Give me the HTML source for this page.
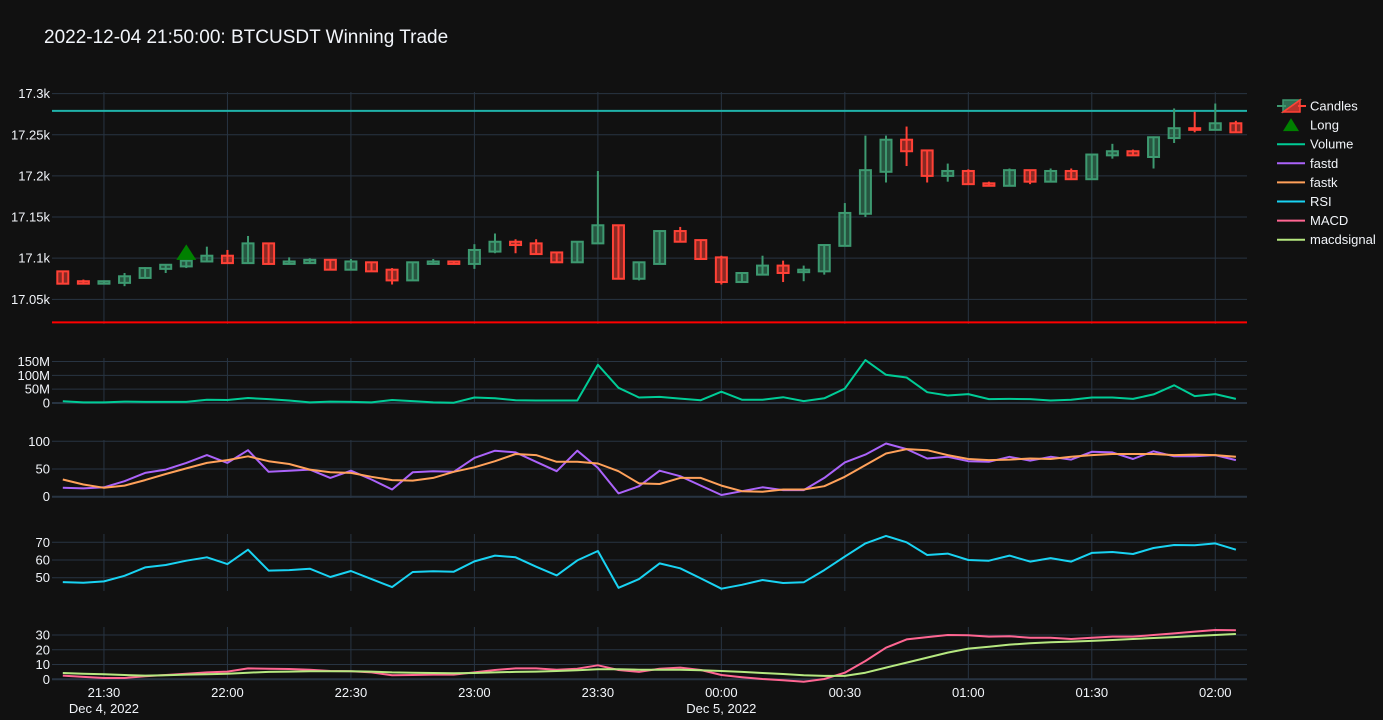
<!DOCTYPE html>
<html><head><meta charset="utf-8"><style>
html,body{margin:0;padding:0;background:#111111;}
svg{display:block;font-family:"Liberation Sans",sans-serif;}
</style></head><body>
<svg id="chart" width="1383" height="720" viewBox="0 0 1383 720" xmlns="http://www.w3.org/2000/svg">
<rect x="0" y="0" width="1383" height="720" fill="#111111"/>
<text x="44" y="43" fill="#f2f5fa" font-size="19">2022-12-04 21:50:00: BTCUSDT Winning Trade</text>
<g id="grid"></g><g id="marks"></g><g id="axes"></g>
<g id="legend"></g>
</svg>
<script>
const opens  = [17084,17072,17069,17070,17076,17087,17090,17096,17103,17094,17118,17093,17094,17098,17086,17095,17086,17073,17093,17096,17093,17108,17120,17118,17107,17095,17118,17140,17075,17093,17133,17122,17101,17071,17080,17091,17083,17084,17115,17154,17205,17244,17231,17200,17206,17191,17188,17207,17193,17206,17196,17225,17230,17223,17246,17258,17256,17264];
const closes = [17069,17069,17072,17078,17088,17092,17097,17103,17094,17118,17093,17096,17098,17086,17096,17084,17073,17095,17096,17093,17110,17120,17116,17105,17095,17120,17140,17075,17095,17133,17120,17099,17071,17082,17091,17082,17086,17116,17155,17207,17244,17230,17200,17206,17190,17188,17207,17193,17206,17196,17226,17230,17225,17247,17258,17256,17264,17253];
const highs  = [17084,17074,17073,17082,17089,17092,17098,17114,17110,17127,17118,17101,17100,17099,17099,17096,17088,17095,17099,17096,17117,17130,17123,17123,17107,17120,17206,17141,17095,17134,17138,17122,17103,17083,17103,17097,17091,17116,17167,17249,17249,17260,17231,17215,17208,17193,17209,17207,17209,17209,17226,17239,17232,17248,17282,17278,17288,17267];
const lows   = [17068,17069,17069,17066,17076,17082,17088,17095,17094,17094,17092,17093,17094,17086,17086,17084,17068,17073,17093,17093,17087,17106,17106,17105,17095,17095,17118,17075,17073,17093,17120,17099,17068,17071,17080,17071,17072,17080,17115,17150,17192,17212,17192,17193,17190,17188,17188,17190,17193,17195,17196,17221,17225,17209,17240,17253,17256,17253];
const volume = [6,2,2,5,4,4,4,12,11,18,14,9,2,5,4,2,11,7,2,1,20,17,10,9,9,9,138,55,20,22,16,10,41,12,12,21,7,17,52,155,102,92,39,27,32,14,15,14,9,12,20,20,15,31,64,25,32,15];
const fastd  = [16,15,17,28,43,49,61,75,61,84,45,47,49,34,47,31,13,44,46,45,70,83,80,63,46,83,52,6,19,47,37,20,3,10,17,12,12,34,62,76,96,86,69,72,64,63,72,65,72,67,81,80,68,82,73,73,75,66];
const fastk  = [31,22,16,20,30,41,51,61,66,73,64,59,49,44,43,36,30,29,34,45,53,64,77,75,63,63,60,46,24,23,34,34,20,10,9,13,13,19,36,57,78,86,84,75,68,66,67,69,68,72,75,77,77,77,75,76,75,72];
const rsi    = [47.5,47.2,47.9,51.1,55.8,57.2,59.6,61.5,57.7,65.8,54,54.3,55.1,50.4,53.8,49.2,44.7,53.2,53.6,53.4,59.2,62.5,61.5,56.2,51.3,59.8,65.1,44.3,49.2,58.1,55.3,49.6,43.8,46,48.7,47,47.4,54.3,61.9,69.4,73.6,70,62.8,63.6,60,59.6,62.5,59.1,61.1,59.1,64,64.5,63.4,66.8,68.5,68.3,69.4,65.8];
const macd   = [2.5,1.6,0.9,0.9,2,2.9,3.8,4.7,5.2,7.4,7.2,7,6.5,5.6,5.4,4.7,2.7,2.9,3.2,3.2,4.7,6.3,7.4,7.4,6.5,7.2,9.5,6.3,5,7.2,7.9,6.3,2.9,1.4,0.2,-0.7,-1.6,0.2,4.5,12.4,21.4,27,28.6,30,29.8,28.9,29.1,28.2,28.2,27.3,28.2,28.9,28.9,30,31.1,32.3,33.4,33.2];
const macdsignal = [4.3,3.8,3.4,2.9,2.5,2.7,3.2,3.4,3.8,4.5,5,5.2,5.4,5.4,5.4,5.2,4.7,4.5,4.3,4.1,4.3,4.7,5,5.2,5.6,6.1,6.8,6.8,6.5,6.5,6.5,6.1,5.6,5,4.3,3.6,2.7,2.3,2.3,4.5,7.9,11.3,14.7,18.1,20.8,22.1,23.5,24.4,25.1,25.5,26,26.6,27.3,28,28.6,29.3,30,30.7];
const priceTicks = [17050,17100,17150,17200,17250,17300];
const priceTickLabels = ["17.05k","17.1k","17.15k","17.2k","17.25k","17.3k"];
const volTicks = [0,50,100,150];
const volTickLabels = ["0","50M","100M","150M"];
const stochTicks = [0,50,100];
const rsiTicks = [50,60,70];
const macdTicks = [0,10,20,30];
const timeTickIdx = [2,8,14,20,26,32,38,44,50,56];
const timeTickLabels = ["21:30","22:00","22:30","23:00","23:30","00:00","00:30","01:00","01:30","02:00"];
const dateTicks = [[2,"Dec 4, 2022"],[32,"Dec 5, 2022"]];
const longIdx = 6, longPrice = 17107;
const takeProfit = 17279, stopLoss = 17022;

const NS="http://www.w3.org/2000/svg";
const X0=52,X1=1247;
const x = i => 62.8 + i*20.58;
const lin=(d0,d1,r0,r1)=>v=>r0+(v-d0)*(r1-r0)/(d1-d0);
const yP=lin(17020,17302,324,92);
const yV=lin(0,150,403,361.5);
const yS=lin(0,100,496.7,441.3);
const yR=lin(50,70,577.7,542.3);
const yM=lin(0,30,679.3,635);
const panels=[{t:92,b:324},{t:358,b:404},{t:440,b:498},{t:534,b:591},{t:627,b:680}];
function el(tag,attrs,parent,text){const e=document.createElementNS(NS,tag);for(const k in attrs)e.setAttribute(k,attrs[k]);if(text!==undefined)e.textContent=text;parent.appendChild(e);return e;}
const G=document.getElementById('grid'),M=document.getElementById('marks'),A=document.getElementById('axes'),L=document.getElementById('legend');
panels.forEach(p=>timeTickIdx.forEach(i=>{const l=el('line',{x1:x(i),x2:x(i),y1:p.t,y2:p.b,stroke:'#283442','stroke-width':1},G);

}));
function yAxis(ticks,labels,f,name,zero){ticks.forEach((v,k)=>{const yy=f(v);
const g=el('line',{x1:X0,x2:X1,y1:yy,y2:yy,stroke:'#283442','stroke-width':(zero&&v===0)?2:1},G);


const t=el('text',{x:50,y:yy+4.5,fill:'#f2f5fa','font-size':13,'text-anchor':'end'},A,labels[k]);

});}
yAxis(priceTicks,priceTickLabels,yP,'price',false);
yAxis(volTicks,volTickLabels,yV,'volume',true);
yAxis(stochTicks,stochTicks.map(String),yS,'stoch',true);
yAxis(rsiTicks,rsiTicks.map(String),yR,'rsi',false);
yAxis(macdTicks,macdTicks.map(String),yM,'macd',true);
timeTickIdx.forEach((i,k)=>{const t=el('text',{x:x(i),y:697,fill:'#f2f5fa','font-size':13,'text-anchor':'middle'},A,timeTickLabels[k]);

});
dateTicks.forEach(d=>{const t=el('text',{x:x(d[0]),y:713,fill:'#f2f5fa','font-size':13,'text-anchor':'middle'},A,d[1]);

});
const tp=el('line',{x1:X0,x2:X1,y1:yP(takeProfit),y2:yP(takeProfit),stroke:'#20B2AA','stroke-width':2},M);


const sl=el('line',{x1:X0,x2:X1,y1:yP(stopLoss),y2:yP(stopLoss),stroke:'#ff0000','stroke-width':2},M);


opens.forEach((o,i)=>{const c=closes[i],up=c>=o,col=up?'#3D9970':'#FF4136',fill=up?'rgba(61,153,112,0.5)':'rgba(255,65,54,0.5)';
const g=el('g',{},M);


el('line',{x1:x(i),x2:x(i),y1:yP(highs[i]),y2:yP(lows[i]),stroke:col,'stroke-width':2},g);
const top=yP(Math.max(o,c)),bot=yP(Math.min(o,c));
el('rect',{x:x(i)-5.5,y:top,width:11,height:Math.max(bot-top,1),fill:fill,stroke:col,'stroke-width':2},g);});
const lx=x(longIdx),ly=yP(longPrice);
const tri=el('polygon',{points:`${lx-10},${ly+7.5} ${lx+10},${ly+7.5} ${lx},${ly-8}`,fill:'#008000'},M);


function line(vals,f,col,name){const d=vals.map((v,i)=>(i?'L':'M')+x(i).toFixed(1)+','+f(v).toFixed(1)).join('');
const p=el('path',{d:d,fill:'none',stroke:col,'stroke-width':2,'stroke-linejoin':'round'},M);

}
line(volume,yV,'#00cc96','volume');
line(fastd,yS,'#ab63fa','fastd');
line(fastk,yS,'#FFA15A','fastk');
line(rsi,yR,'#19d3f3','rsi');
line(macd,yM,'#FF6692','macd');
line(macdsignal,yM,'#B6E880','macdsignal');
const leg=[['Candles',null],['Long',null],['Volume','#00cc96'],['fastd','#ab63fa'],['fastk','#FFA15A'],['RSI','#19d3f3'],['MACD','#FF6692'],['macdsignal','#B6E880']];
leg.forEach((e,k)=>{const yy=106+k*19.1;const g=el('g',{},L);


if(k===0){el('line',{x1:1277,x2:1286,y1:yy,y2:yy,stroke:'#3D9970','stroke-width':2},g);el('line',{x1:1298,x2:1306,y1:yy,y2:yy,stroke:'#FF4136','stroke-width':2},g);
el('polygon',{points:`${1283},${yy-6} ${1300},${yy-6} ${1283},${yy+6}`,fill:'rgba(61,153,112,0.7)',stroke:'#3D9970','stroke-width':1.5},g);
el('polygon',{points:`${1300},${yy-6} ${1300},${yy+6} ${1283},${yy+6}`,fill:'rgba(255,65,54,0.7)',stroke:'#FF4136','stroke-width':1.5},g);}
else if(k===1){el('polygon',{points:`1283,${yy+6} 1299,${yy+6} 1291,${yy-7}`,fill:'#008000'},g);}
else{el('line',{x1:1277,x2:1305,y1:yy,y2:yy,stroke:e[1],'stroke-width':2},g);}
el('text',{x:1310,y:yy+4.5,fill:'#f2f5fa','font-size':13},g,e[0]);});
</script>
</body></html>
